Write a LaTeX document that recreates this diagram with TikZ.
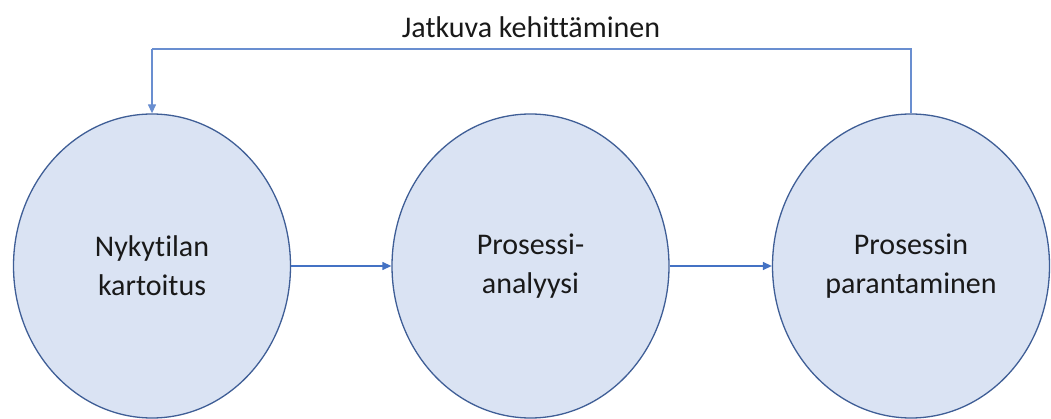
\documentclass[tikz,border=0pt]{standalone}
\usepackage{fontspec}
\setmainfont{Carlito}[Ligatures={NoCommon,NoContextual}]
\usetikzlibrary{shapes.geometric,arrows.meta}
\definecolor{phasefill}{HTML}{DAE3F3}
\definecolor{phaseedge}{HTML}{3F5E96}
\definecolor{flowline}{HTML}{4472C4}
\begin{document}
\begin{tikzpicture}[x=1pt,y=-1pt,
  phase/.style={ellipse,draw=phaseedge,fill=phasefill,line width=1.3pt,
    minimum width=277pt,minimum height=304pt,inner sep=0pt,
    align=center,font=\fontsize{30}{39}\selectfont,text=black!90},
  flow/.style={draw=flowline,line width=1.3pt,-{Triangle[length=9pt,width=8pt]}},
  loopline/.style={draw=flowline!80,line width=1.3pt}]
  \useasboundingbox (0,0) rectangle (1051,419);
  % the three phases
  \node[phase] (kartoitus) at (152,266) {Nykytilan\\kartoitus};
  \node[phase] (analyysi) at (530.5,266) {Prosessi-\\analyysi};
  \node[phase] (parantaminen) at (911,266) {Prosessin\\parantaminen};
  % forward flow
  \draw[flow] (kartoitus.east) -- (analyysi.west);
  \draw[flow] (analyysi.east) -- (parantaminen.west);
  % feedback loop over the top
  \coordinate (loopR) at (911,49);
  \coordinate (loopL) at (152,49);
  \draw[loopline] (parantaminen.north) -- (loopR) -- (loopL);
  \draw[flow,draw=flowline!80] (loopL) -- (kartoitus.north);
  \node[font=\fontsize{30}{36}\selectfont,text=black!90] (jatkuva) at (531,27) {Jatkuva kehittäminen};
\end{tikzpicture}
\end{document}
